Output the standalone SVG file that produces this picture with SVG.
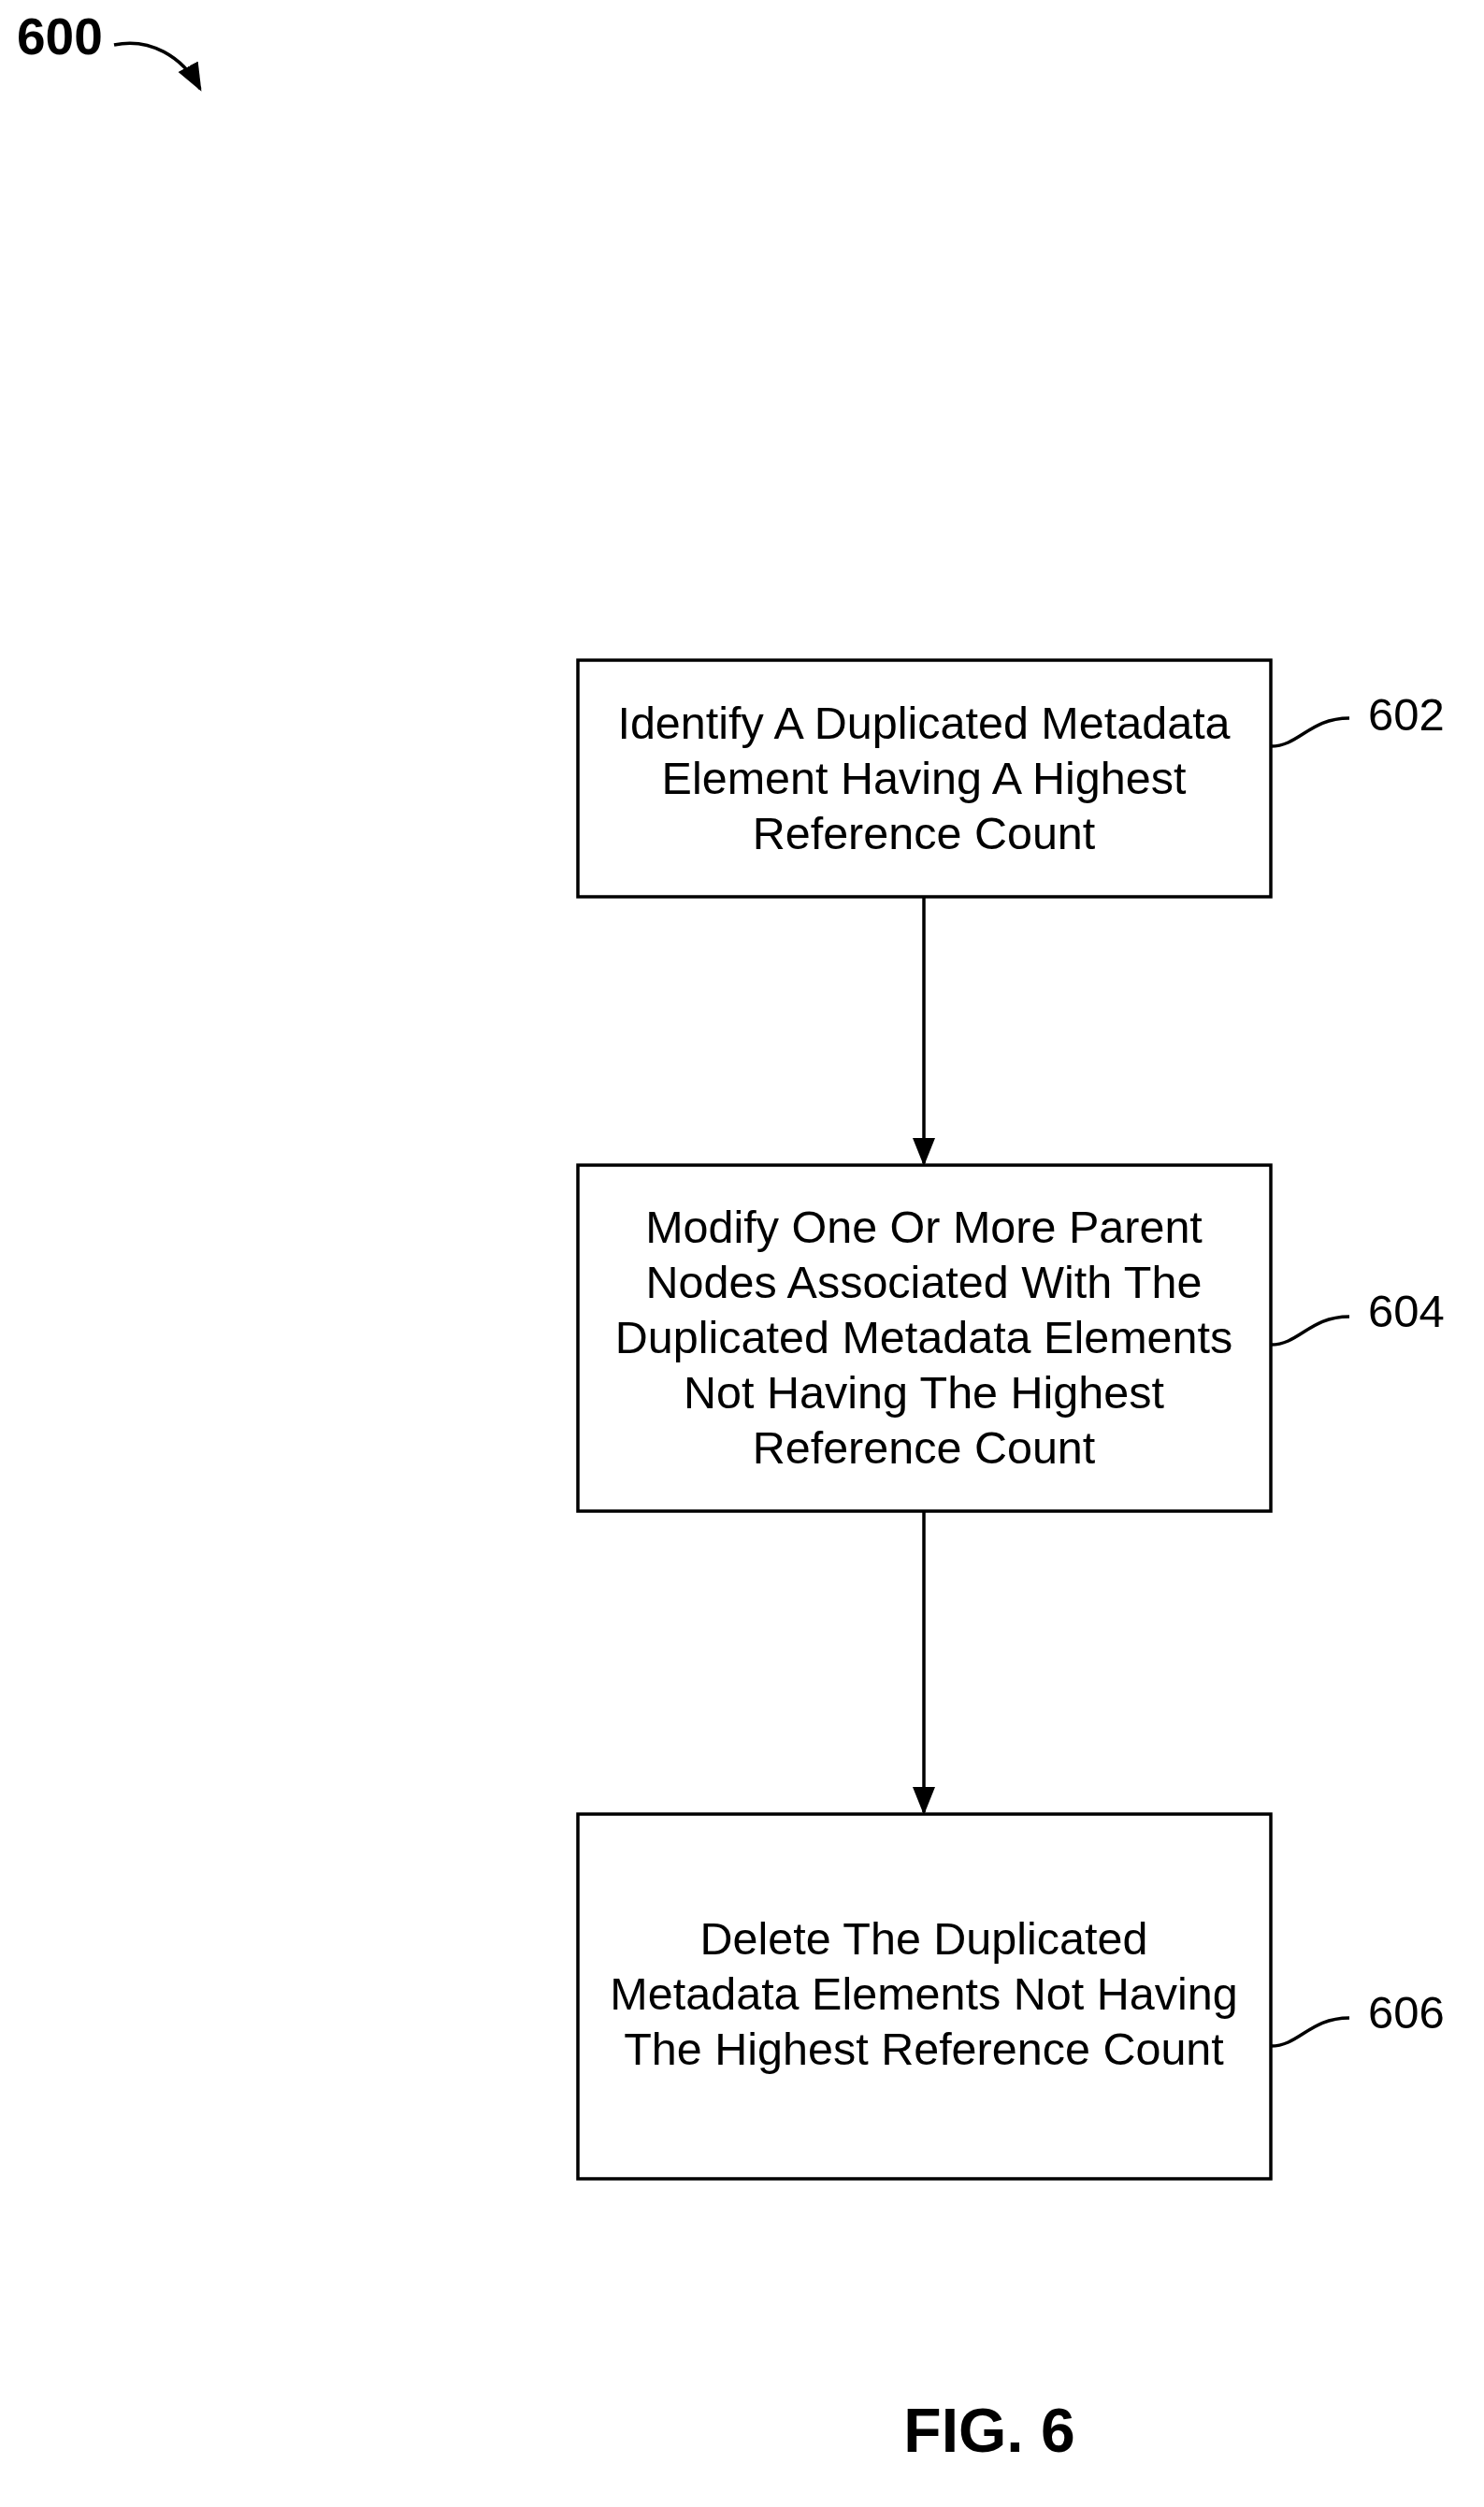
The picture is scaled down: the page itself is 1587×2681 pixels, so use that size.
<svg xmlns="http://www.w3.org/2000/svg" width="1587" height="2681" viewBox="0 0 1587 2681">
<style>
.box{fill:#fff;stroke:#000;stroke-width:3.5}
.t{font-family:"Liberation Sans",Arial,sans-serif;font-size:48.5px;text-anchor:middle;fill:#000}
.ref{font-family:"Liberation Sans",Arial,sans-serif;font-size:49px;fill:#000}
.ln{fill:none;stroke:#000;stroke-width:3.5}
</style>
<defs>
<marker id="a2" viewBox="0 0 10 10" refX="9" refY="5" markerWidth="30" markerHeight="30" orient="auto" markerUnits="userSpaceOnUse"><path d="M0,1 L10,5 L0,9 z"/></marker></defs>
<rect width="1587" height="2681" fill="#fff"/>
<g id="title">
<text x="18" y="58" style="font-family:'Liberation Sans',Arial,sans-serif;font-size:55px;font-weight:bold">600</text>
<path class="ln" d="M122,48 C160,40 195,60 214,95" marker-end="url(#a2)"/>
</g>
<g id="n602">
<rect class="box" x="618" y="706" width="741" height="253"/>
<text class="t" x="988" y="790">Identify A Duplicated Metadata</text>
<text class="t" x="988" y="849">Element Having A Highest</text>
<text class="t" x="988" y="908">Reference Count</text>
<path class="ln" d="M1359,798 C1390,798 1400,768 1443,768"/>
<text class="ref" x="1463" y="781">602</text>
</g>
<g id="n604">
<rect class="box" x="618" y="1246" width="741" height="370"/>
<text class="t" x="988" y="1329">Modify One Or More Parent</text>
<text class="t" x="988" y="1388">Nodes Associated With The</text>
<text class="t" x="988" y="1447">Duplicated Metadata Elements</text>
<text class="t" x="988" y="1506">Not Having The Highest</text>
<text class="t" x="988" y="1565">Reference Count</text>
<path class="ln" d="M1359,1438 C1390,1438 1400,1408 1443,1408"/>
<text class="ref" x="1463" y="1419">604</text>
</g>
<g id="n606">
<rect class="box" x="618" y="1940" width="741" height="390"/>
<text class="t" x="988" y="2090">Delete The Duplicated</text>
<text class="t" x="988" y="2149">Metadata Elements Not Having</text>
<text class="t" x="988" y="2208">The Highest Reference Count</text>
<path class="ln" d="M1359,2188 C1390,2188 1400,2158 1443,2158"/>
<text class="ref" x="1463" y="2169">606</text>
</g>
<g id="connectors">
<line class="ln" x1="988" y1="959" x2="988" y2="1244" marker-end="url(#a2)"/>
<line class="ln" x1="988" y1="1616" x2="988" y2="1938" marker-end="url(#a2)"/>
</g>
<text x="1058" y="2622" style="font-family:'Liberation Sans',Arial,sans-serif;font-size:66px;font-weight:bold;text-anchor:middle">FIG. 6</text>
</svg>
